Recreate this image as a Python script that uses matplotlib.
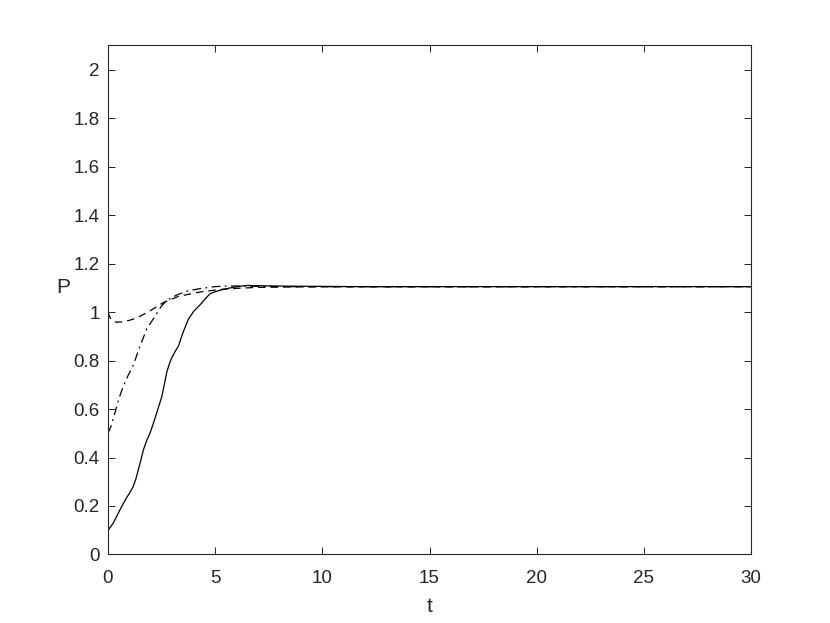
import matplotlib
matplotlib.use('Agg')
import matplotlib.pyplot as plt

# solid curve, starts at P = 0.1
t_solid = [0, 0.12, 0.25, 0.4, 0.56, 0.72, 0.87, 1.02, 1.18, 1.3, 1.42, 1.54, 1.65,
           1.8, 1.96, 2.08, 2.19, 2.35, 2.51, 2.63, 2.74, 2.86, 2.97, 3.12, 3.29,
           3.5, 3.75, 4.0, 4.3, 4.55, 4.77, 5.0, 5.3, 5.6, 5.9, 6.2, 6.5, 7.0, 7.5,
           8.5, 10, 12, 30]
p_solid = [0.10, 0.113, 0.13, 0.155, 0.184, 0.21, 0.234, 0.255, 0.28, 0.31, 0.35,
           0.39, 0.43, 0.468, 0.50, 0.53, 0.56, 0.605, 0.65, 0.70, 0.75, 0.785, 0.81,
           0.835, 0.86, 0.915, 0.97, 1.003, 1.03, 1.056, 1.076, 1.084, 1.092, 1.098,
           1.103, 1.107, 1.11, 1.109, 1.108, 1.107, 1.106, 1.105, 1.105]

# dash-dot curve, starts at P = 0.5
t_dashdot = [0, 0.15, 0.33, 0.5, 0.72, 0.95, 1.18, 1.5, 1.81, 2.1, 2.5, 2.75,
             3.2, 3.7, 4.3, 5.0, 5.6, 6.5, 8, 10, 30]
p_dashdot = [0.50, 0.53, 0.585, 0.64, 0.695, 0.74, 0.78, 0.86, 0.93, 0.97, 1.025, 1.048,
             1.07, 1.087, 1.097, 1.105, 1.108, 1.107, 1.105, 1.105, 1.105]

# dashed curve, starts at P = 1.0
t_dashed = [0, 0.15, 0.4, 0.7, 1.0, 1.35, 1.65, 2.0, 2.6, 3.3, 4.3, 5.2, 6, 7, 9, 30]
p_dashed = [1.0, 0.968, 0.958, 0.96, 0.966, 0.976, 0.99, 1.007, 1.04, 1.065, 1.083,
            1.093, 1.098, 1.102, 1.104, 1.105]

x_ticks = [0, 5, 10, 15, 20, 25, 30]
y_ticks = [0, 0.2, 0.4, 0.6, 0.8, 1, 1.2, 1.4, 1.6, 1.8, 2]

AXIS_GRAY = '#262626'

plt.rcParams['font.family'] = ['Liberation Sans', 'DejaVu Sans']

fig = plt.figure(figsize=(8.3, 6.23), dpi=100)
ax = fig.add_axes([0.13, 0.11, 0.775, 0.817])

ax.plot(t_solid, p_solid, color='black', lw=0.9, linestyle='-')
ax.plot(t_dashdot, p_dashdot, color='black', lw=0.9, linestyle=(0, (7, 3.5, 1.5, 3.5)))
ax.plot(t_dashed, p_dashed, color='black', lw=0.9, linestyle=(0, (6, 4)))

ax.set_xlim(0, 30)
ax.set_ylim(0, 2.1)
ax.set_xticks(x_ticks)
ax.set_xticklabels([f'{v:g}' for v in x_ticks])
ax.set_yticks(y_ticks)
ax.set_yticklabels([f'{v:g}' for v in y_ticks])

ax.tick_params(direction='in', top=True, right=True, length=5, width=0.7,
               colors=AXIS_GRAY, labelsize=13.5)
ax.tick_params(axis='x', pad=11)
ax.tick_params(axis='y', pad=6)
for spine in ax.spines.values():
    spine.set_color(AXIS_GRAY)
    spine.set_linewidth(0.8)

ax.set_xlabel('t', fontsize=15, color=AXIS_GRAY)
ax.set_ylabel('P', fontsize=15, color=AXIS_GRAY, rotation=0, va='center', ha='center')
ax.yaxis.set_label_coords(-0.07, 0.524)
ax.xaxis.set_label_coords(0.5, -0.083)

fig.savefig('out.png', dpi=100)
